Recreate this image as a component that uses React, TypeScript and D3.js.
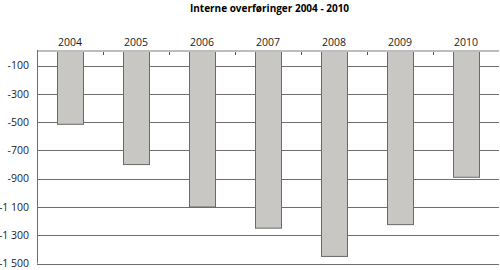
import React from "react";
import * as d3 from "d3";

const years = ["2004", "2005", "2006", "2007", "2008", "2009", "2010"];
const values = [-515, -800, -1100, -1250, -1450, -1225, -890];
const yTicks = [-100, -300, -500, -700, -900, -1100, -1300, -1500];
const title = "Interne overføringer 2004 - 2010";

const W = 500;
const H = 270;
const margin = { left: 37, right: 1, top: 51.5, bottom: 6.5 };
const font = "'Open Sans', 'DejaVu Sans', sans-serif";

export default function App() {
  const x = d3
    .scaleBand<string>()
    .domain(years)
    .range([margin.left, W - margin.right])
    .paddingInner(0.6)
    .paddingOuter(0.3);
  const y = d3.scaleLinear().domain([0, -1500]).range([margin.top, H - margin.bottom]);
  const step = x.step();
  const fmt = (v: number) => d3.format(",")(v).replace(/,/g, " ").replace("−", "-");
  return (
    <svg width={W} height={H} style={{ position: "absolute", left: 0, top: 0, background: "#fff" }}>
      <text x={269.5} y={12} textAnchor="middle" fontFamily={font} fontWeight="bold" fontSize={10} fill="#000">
        {title}
      </text>
      {yTicks.map((t) => (
        <g key={t}>
          <line x1={margin.left} x2={W - margin.right} y1={Math.round(y(t)) + 0.5} y2={Math.round(y(t)) + 0.5} stroke="#6e6e6e" strokeWidth={1} />
          <text x={29} y={y(t)} dy="0.35em" textAnchor="end" fontFamily={font} fontSize={10.5} fill="#222">
            {fmt(t)}
          </text>
        </g>
      ))}
      {years.map((yr, i) => {
        const v = values[i];
        const x0 = x(yr)!;
        return (
          <rect key={yr} x={Math.round(x0) + 0.5} y={y(0)} width={Math.round(x.bandwidth())} height={y(v) - y(0)} fill="#c8c7c3" stroke="#6a6a6a" strokeWidth={1} />
        );
      })}
      {years.map((yr) => (
        <text key={yr} x={x(yr)! + x.bandwidth() / 2} y={46} textAnchor="middle" fontFamily={font} fontSize={10.5} fill="#222">
          {yr}
        </text>
      ))}
      {years.slice(1).map((yr) => {
        const bx = Math.round(x(yr)! - (step - x.bandwidth()) / 2) + 0.5;
        return <line key={yr} x1={bx} x2={bx} y1={margin.top} y2={margin.top + 3.5} stroke="#555" strokeWidth={1} />;
      })}
      <line x1={margin.left} x2={W - margin.right} y1={margin.top - 0.5} y2={margin.top - 0.5} stroke="#bdbdbd" strokeWidth={2} />
      <line x1={margin.left + 0.5} x2={margin.left + 0.5} y1={margin.top - 1.5} y2={H - margin.bottom} stroke="#6e6e6e" strokeWidth={1} />
    </svg>
  );
}
